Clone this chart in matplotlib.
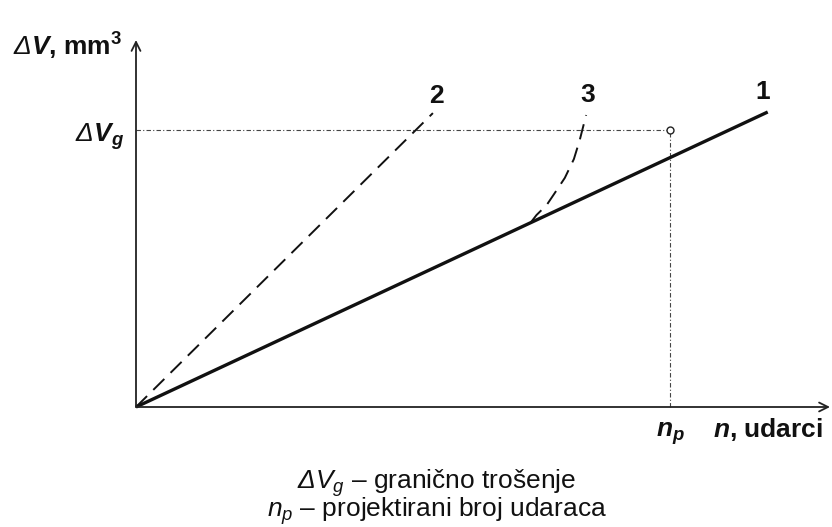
import matplotlib
matplotlib.use("Agg")
import matplotlib.pyplot as plt

plt.rcParams['font.family'] = ['Liberation Sans', 'DejaVu Sans']
plt.rcParams['mathtext.fontset'] = 'custom'
plt.rcParams['mathtext.rm'] = 'Liberation Sans'
plt.rcParams['mathtext.it'] = 'Liberation Sans:italic'
plt.rcParams['mathtext.bf'] = 'Liberation Sans:bold'
plt.rcParams['mathtext.bfit'] = 'Liberation Sans:bold:italic'
plt.rcParams['mathtext.sf'] = 'Liberation Sans:italic'   # used for italic Greek Delta

# ---- data (n in units of n_p, dV in units of dV_g) ----
line1_n = [0.0, 1.183]
line1_dv = [0.0, 1.065]
line2_n = [0.0, 0.556]
line2_dv = [0.0, 1.061]
line3_n = [0.740, 0.750, 0.769, 0.783, 0.803, 0.820, 0.831, 0.840, 0.843]
line3_dv = [0.668, 0.693, 0.729, 0.769, 0.827, 0.895, 0.964, 1.032, 1.054]
n_p = 1.0
dv_g = 1.0
curve_labels = ['1', '2', '3']

# pixel layout helpers
X0, Y0, SX, SY = 136, 407, 534, 277
def P(px, py):
    return ((px - X0) / SX, (Y0 - py) / SY)

fig = plt.figure(figsize=(8.32, 5.27), dpi=100)
ax = fig.add_axes([0, 0, 1, 1])
ax.set_xlim(-X0 / SX, (832 - X0) / SX)
ax.set_ylim((Y0 - 527) / SY, Y0 / SY)
ax.axis('off')

# axes with arrows
ax.annotate('', xy=P(136, 40), xytext=P(136, 407),
            arrowprops=dict(arrowstyle='->', lw=1.3, color='#222',
                            mutation_scale=16, shrinkA=0, shrinkB=0))
ax.annotate('', xy=P(830, 407), xytext=P(136, 407),
            arrowprops=dict(arrowstyle='->', lw=1.3, color='#222',
                            mutation_scale=16, shrinkA=0, shrinkB=0))

# reference lines
ax.plot([0, n_p], [dv_g, dv_g], color='#444', lw=0.8, linestyle=(0, (4, 2, 1, 2)))
ax.plot([n_p, n_p], [0, dv_g], color='#444', lw=0.8, linestyle=(0, (4, 2, 1, 2)))
ax.plot([n_p], [dv_g], marker='o', ms=5, mfc='white', mec='#222', mew=1.0)

# curves
ax.plot(line1_n, line1_dv, color='#111', lw=2.4, solid_capstyle='butt')
ax.plot(line2_n, line2_dv, color='#111', lw=1.4, linestyle=(0, (8, 4.5)))
ax.plot(line3_n, line3_dv, color='#111', lw=1.4, linestyle=(0, (8, 4.5)))

# curve labels
lab_fs = 19
for lab, (px, py) in zip(curve_labels, [(763, 99), (436, 103), (588, 102)]):
    ax.text(*P(px, py), lab, ha='center', va='baseline', fontsize=lab_fs,
            fontweight='bold', color='#111')

# axis labels
ax.text(*P(13, 56), r'$\mathsf{\Delta}\mathbfit{V}$, mm$^\mathbf{3}$', ha='left',
        va='baseline', fontsize=lab_fs, fontweight='bold', color='#111')
ax.text(*P(124, 142), r'$\mathsf{\Delta}\mathbfit{V}_\mathbfit{g}$', ha='right',
        va='baseline', fontsize=lab_fs, fontweight='bold', color='#111')
ax.text(*P(656, 437), r'$\mathbfit{n}_\mathbfit{p}$', ha='left',
        va='baseline', fontsize=lab_fs, fontweight='bold', color='#111')
ax.text(*P(713, 437), r'$\mathbfit{n}$, udarci', ha='left',
        va='baseline', fontsize=lab_fs, fontweight='bold', color='#111')

# explanation below the chart
ax.text(*P(437, 517),
        r'$\mathsf{\Delta}\mathit{V}_\mathit{g}$ – granično trošenje' + '\n' +
        r'$\mathit{n}_\mathit{p}$ – projektirani broj udaraca',
        ha='center', va='baseline', multialignment='center',
        fontsize=19, color='#111', linespacing=0.82)

fig.savefig('out.png', dpi=100)
